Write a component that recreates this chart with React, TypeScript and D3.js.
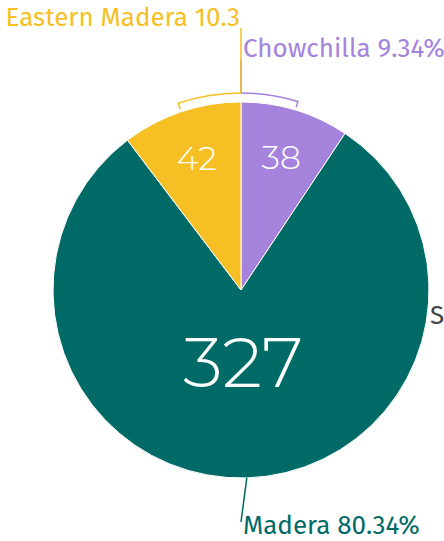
import React from "react";
import * as d3 from "d3";

const categories = ["Chowchilla", "Madera", "Eastern Madera"];
const values = [38, 327, 42];
const colors = ["#a583dc", "#006b66", "#f6bf23"];
const labelTexts = ["Chowchilla 9.34%", "Madera 80.34%", "Eastern Madera 10.3"];

export default function App() {
  const W = 444, H = 541;
  const cx = 241, cy = 290, R = 188;
  const pie = d3.pie<number>().sort(null).value((d) => d)(values);
  const arc = d3.arc<any>().innerRadius(0).outerRadius(R);
  const font = "'Fira Sans', 'Open Sans', sans-serif";
  const pt = (a: number, r: number) => [cx + r * Math.sin(a), cy - r * Math.cos(a)];
  const bracketR = 197;
  const bracket = (a0: number, a1: number) => {
    const [x0, y0] = pt(a0, bracketR - 6);
    const [x1, y1] = pt(a0, bracketR);
    const [x2, y2] = pt(a1, bracketR);
    const sweep = a1 > a0 ? 1 : 0;
    return `M${x0},${y0}L${x1},${y1}A${bracketR},${bracketR} 0 0 ${sweep} ${x2},${y2}`;
  };
  const cPurple = pie[0];
  const cYellow = pie[2];
  const purpleMid = (cPurple.startAngle + cPurple.endAngle) / 2;
  const yellowMid = (cYellow.startAngle + cYellow.endAngle) / 2 - 2 * Math.PI;
  const madera = pie[1];
  const maderaMid = (madera.startAngle + madera.endAngle) / 2;
  const [mx, my] = pt(maderaMid, R);
  const inner = [
    { r: 0.74 * R, size: 33 },
    { r: 0.38 * R, size: 71 },
    { r: 0.74 * R, size: 33 },
  ];
  return (
    <svg width={W} height={H} style={{ position: "absolute", left: 0, top: 0 }}>
      <g transform={`translate(${cx},${cy})`}>
        {pie.map((p, i) => (
          <path key={i} d={arc(p) as string} fill={colors[i]} stroke="#fff" strokeWidth={1} />
        ))}
        {pie.map((p, i) => {
          const m = (p.startAngle + p.endAngle) / 2;
          const r = inner[i].r;
          return (
            <text key={"v" + i} x={r * Math.sin(m)} y={-r * Math.cos(m)} textAnchor="middle"
              dominantBaseline="central" fill="#fff" fontFamily="Montserrat, 'Open Sans', sans-serif"
              fontWeight={300} fontSize={inner[i].size}>{values[i]}</text>
          );
        })}
      </g>
      <path d={bracket(purpleMid, 0)} fill="none" stroke={colors[0]} strokeWidth={1.5} />
      <line x1={cx} y1={cy - bracketR} x2={cx} y2={60} stroke={colors[0]} strokeWidth={1.5} />
      <path d={bracket(yellowMid, 0)} fill="none" stroke={colors[2]} strokeWidth={1.5} />
      <line x1={cx} y1={cy - bracketR} x2={cx} y2={28} stroke={colors[2]} strokeWidth={1.5} />
      <line x1={mx} y1={my} x2={241} y2={522} stroke={colors[1]} strokeWidth={1.5} />
      <text x={240} y={26} textAnchor="end" fill={colors[2]} fontFamily={font} fontSize={26}>{labelTexts[2]}</text>
      <text x={243} y={57} fill={colors[0]} fontFamily={font} fontSize={26}>{labelTexts[0]}</text>
      <text x={243} y={534} fill={colors[1]} fontFamily={font} fontSize={26}>{labelTexts[1]}</text>
      <text x={430} y={324} fill="#444" fontFamily={font} fontSize={26}>S</text>
    </svg>
  );
}
